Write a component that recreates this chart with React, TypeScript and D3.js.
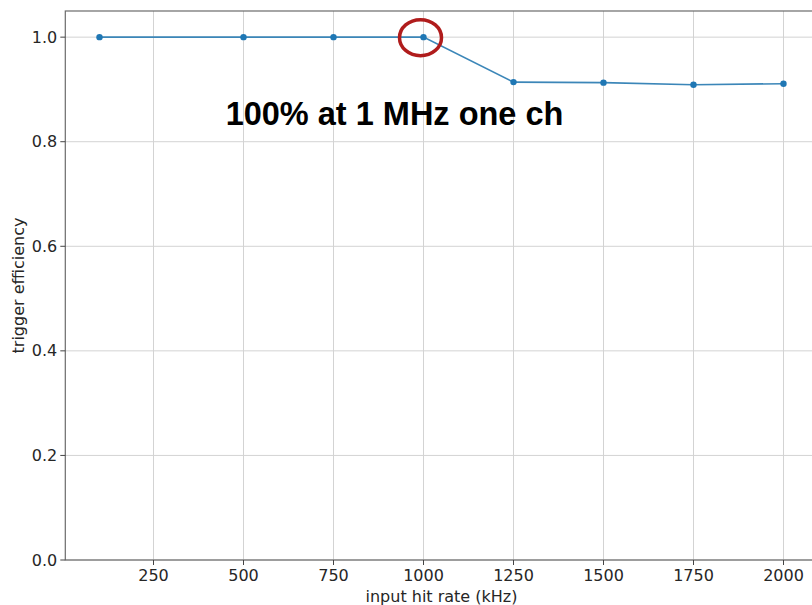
import React from "react";
import * as d3 from "d3";

const rates = [100, 500, 750, 1000, 1250, 1500, 1750, 2000];
const efficiency = [1.0, 1.0, 1.0, 1.0, 0.914, 0.913, 0.909, 0.911];
const xTicks = [250, 500, 750, 1000, 1250, 1500, 1750, 2000];
const yTicks = [0.0, 0.2, 0.4, 0.6, 0.8, 1.0];
const annotation = "100% at 1 MHz one ch";
const xLabel = "input hit rate (kHz)";
const yLabel = "trigger efficiency";

const W = 812;
const H = 605;
const left = 65.3;
const right = 817.7;
const top = 11;
const bottom = 560;

export default function App() {
  const x = d3.scaleLinear().domain([5, 2095]).range([left, right]);
  const y = d3.scaleLinear().domain([0, 1.05]).range([bottom, top]);
  const line = d3
    .line<number>()
    .x((_, i) => x(rates[i]))
    .y((d) => y(d));
  const font = "'DejaVu Sans', sans-serif";
  const tickColor = "#262626";
  return (
    <svg
      width={W}
      height={H}
      style={{ position: "absolute", left: 0, top: 0, background: "#fff" }}
    >
      <rect x={0} y={0} width={W} height={H} fill="#fff" />
      {xTicks.map((t) => (
        <line key={"gx" + t} x1={x(t)} x2={x(t)} y1={top} y2={bottom} stroke="#d3d3d3" strokeWidth={1} />
      ))}
      {yTicks.map((t) => (
        <line key={"gy" + t} x1={left} x2={right} y1={y(t)} y2={y(t)} stroke="#d3d3d3" strokeWidth={1} />
      ))}
      <rect x={left} y={top} width={right - left} height={bottom - top} fill="none" stroke="#6b6b6b" strokeWidth={1.2} />
      {xTicks.map((t) => (
        <g key={"tx" + t}>
          <line x1={x(t)} x2={x(t)} y1={bottom} y2={bottom + 5} stroke="#444" strokeWidth={1} />
          <text x={x(t)} y={bottom + 21} textAnchor="middle" fontFamily={font} fontSize={16} fill={tickColor}>
            {t}
          </text>
        </g>
      ))}
      {yTicks.map((t) => (
        <g key={"ty" + t}>
          <line x1={left - 5} x2={left} y1={y(t)} y2={y(t)} stroke="#444" strokeWidth={1} />
          <text x={left - 8} y={y(t)} dy="0.35em" textAnchor="end" fontFamily={font} fontSize={16} fill={tickColor}>
            {t.toFixed(1)}
          </text>
        </g>
      ))}
      <text x={(left + right) / 2} y={602} textAnchor="middle" fontFamily={font} fontSize={16} fill={tickColor}>
        {xLabel}
      </text>
      <text
        transform={`translate(24, ${(top + bottom) / 2}) rotate(-90)`}
        textAnchor="middle"
        fontFamily={font}
        fontSize={16}
        fill={tickColor}
      >
        {yLabel}
      </text>
      <path d={line(efficiency) || ""} fill="none" stroke="#3b86b8" strokeWidth={1.6} />
      {efficiency.map((v, i) => (
        <circle key={"p" + i} cx={x(rates[i])} cy={y(v)} r={3.2} fill="#1f77b4" />
      ))}
      <ellipse cx={x(1000) - 3} cy={y(1.0) + 0.5} rx={21} ry={18} fill="none" stroke="#b01c1c" strokeWidth={3.5} />
      <text x={394.5} y={114} dy="0.35em" textAnchor="middle" fontFamily="'Liberation Sans', Arial, sans-serif" fontWeight="bold" fontSize={32.5} fill="#000">
        {annotation}
      </text>
    </svg>
  );
}
